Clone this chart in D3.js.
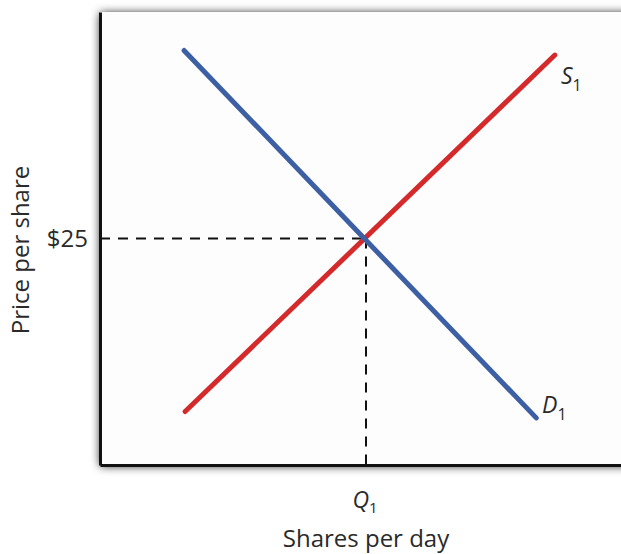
<!DOCTYPE html>
<html>
<head>
<meta charset="utf-8">
<script src="https://cdn.jsdelivr.net/npm/d3@7"></script>
<style>
  body { margin: 0; background: #fff; }
  svg { display: block; font-family: "Open Sans", "Noto Sans", sans-serif; }
</style>
</head>
<body>
<svg id="chart"></svg>
<script>
// curve endpoints (quantity, price) in chart units
const demand = [{ q: 1.58, p: 9.15 }, { q: 8.2, p: 1.04 }];
const supply = [{ q: 1.6, p: 1.18 }, { q: 8.55, p: 9.05 }];
const eqQ = 5, eqP = 5;
const priceTicks = [5], priceLabels = ["$25"];
const qtyTicks = [5];

const w = 621, h = 554;
const plotLeft = 100, plotTop = 12, plotBottom = 465;
const textColor = '#2a2a2a';

const svg = d3.select('#chart').attr('width', w).attr('height', h);

const x = d3.scaleLinear().domain([0, 10]).range([plotLeft, 632]);
const y = d3.scaleLinear().domain([0, 10]).range([plotBottom, plotTop]);

// panel with soft shadow
const defs = svg.append('defs');
const f = defs.append('filter').attr('id', 'shadow')
  .attr('x', '-20%').attr('y', '-20%').attr('width', '140%').attr('height', '140%');
f.append('feDropShadow')
  .attr('dx', 0).attr('dy', 1)
  .attr('stdDeviation', 5)
  .attr('flood-color', '#000')
  .attr('flood-opacity', 0.9);

svg.append('rect')
  .attr('x', plotLeft).attr('y', plotTop)
  .attr('width', 560).attr('height', plotBottom - plotTop)
  .attr('fill', '#fdfdfd')
  .attr('filter', 'url(#shadow)');

// dashed guides
svg.append('line')
  .attr('x1', x(0)).attr('x2', x(eqQ))
  .attr('y1', y(eqP)).attr('y2', y(eqP))
  .attr('stroke', '#111').attr('stroke-width', 2)
  .attr('stroke-dasharray', '10,8');
svg.append('line')
  .attr('x1', x(eqQ)).attr('x2', x(eqQ))
  .attr('y1', y(eqP)).attr('y2', y(0))
  .attr('stroke', '#111').attr('stroke-width', 2)
  .attr('stroke-dasharray', '10,8');

const line = d3.line().x(d => x(d.q)).y(d => y(d.p));

svg.append('path').datum(supply)
  .attr('d', line)
  .attr('fill', 'none')
  .attr('stroke', '#d42a2c')
  .attr('stroke-width', 5)
  .attr('stroke-linecap', 'round');

svg.append('path').datum(demand)
  .attr('d', line)
  .attr('fill', 'none')
  .attr('stroke', '#3d5fa3')
  .attr('stroke-width', 5)
  .attr('stroke-linecap', 'round');

// axes
const yAxis = svg.append('g')
  .attr('transform', `translate(${plotLeft},0)`)
  .call(d3.axisLeft(y).tickValues(priceTicks).tickFormat((d, i) => priceLabels[i]).tickSize(0).tickSizeOuter(0).tickPadding(12));
const xAxis = svg.append('g')
  .attr('transform', `translate(0,${plotBottom})`)
  .call(d3.axisBottom(x).tickValues(qtyTicks).tickFormat('').tickSize(0).tickSizeOuter(0));

[yAxis, xAxis].forEach(a => {
  a.select('.domain').attr('stroke', '#111').attr('stroke-width', 3);
});
yAxis.selectAll('text')
  .attr('font-size', 24)
  .attr('fill', textColor)
  .attr('font-family', '"Open Sans", sans-serif');

// Q1 tick label
const q1 = svg.append('text')
  .attr('x', x(eqQ) - 1).attr('y', 508)
  .attr('text-anchor', 'middle')
  .attr('font-size', 23).attr('fill', textColor)
  .attr('font-style', 'italic');
q1.append('tspan').text('Q');
q1.append('tspan').attr('font-size', 15).attr('font-style', 'normal').attr('dy', 5).text('1');

// curve labels
function subLabel(px, py, letter) {
  const t = svg.append('text')
    .attr('x', px).attr('y', py)
    .attr('font-size', 23).attr('fill', textColor)
    .attr('font-style', 'italic');
  t.append('tspan').text(letter);
  t.append('tspan').attr('font-size', 16).attr('font-style', 'normal').attr('dy', 7).text('1');
}
subLabel(561, 84, 'S');
subLabel(542, 413, 'D');

// axis titles
svg.append('text')
  .attr('x', 366).attr('y', 547)
  .attr('text-anchor', 'middle')
  .attr('font-size', 24).attr('fill', textColor)
  .text('Shares per day');

svg.append('text')
  .attr('transform', 'translate(29,250) rotate(-90)')
  .attr('text-anchor', 'middle')
  .attr('font-size', 24).attr('fill', textColor)
  .text('Price per share');
</script>
</body>
</html>
